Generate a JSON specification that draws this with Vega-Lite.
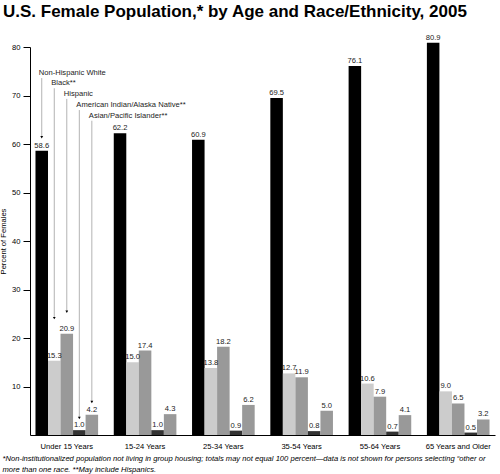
{
  "$schema": "https://vega.github.io/schema/vega-lite/v6.json",
  "width": 465,
  "height": 388,
  "autosize": {"type": "none"},
  "padding": {"left": 30, "top": 47, "right": 5, "bottom": 39},
  "background": "white",
  "config": {
    "view": {"stroke": null},
    "font": "Liberation Sans",
    "axis": {"grid": false}
  },
  "title": {
    "text": "U.S. Female Population,* by Age and Race/Ethnicity, 2005",
    "font": "Liberation Sans",
    "fontSize": 17,
    "fontWeight": "bold",
    "color": "black",
    "anchor": "start",
    "frame": "group",
    "dx": -27,
    "offset": 13
  },
  "datasets": {
    "bars": [
      {"age": "Under 15 Years", "race": "Non-Hispanic White", "pct": 58.6},
      {"age": "Under 15 Years", "race": "Black**", "pct": 15.3},
      {"age": "Under 15 Years", "race": "Hispanic", "pct": 20.9},
      {"age": "Under 15 Years", "race": "American Indian/Alaska Native**", "pct": 1.0},
      {"age": "Under 15 Years", "race": "Asian/Pacific Islander**", "pct": 4.2},
      {"age": "15-24 Years", "race": "Non-Hispanic White", "pct": 62.2},
      {"age": "15-24 Years", "race": "Black**", "pct": 15.0},
      {"age": "15-24 Years", "race": "Hispanic", "pct": 17.4},
      {"age": "15-24 Years", "race": "American Indian/Alaska Native**", "pct": 1.0},
      {"age": "15-24 Years", "race": "Asian/Pacific Islander**", "pct": 4.3},
      {"age": "25-34 Years", "race": "Non-Hispanic White", "pct": 60.9},
      {"age": "25-34 Years", "race": "Black**", "pct": 13.8},
      {"age": "25-34 Years", "race": "Hispanic", "pct": 18.2},
      {"age": "25-34 Years", "race": "American Indian/Alaska Native**", "pct": 0.9},
      {"age": "25-34 Years", "race": "Asian/Pacific Islander**", "pct": 6.2},
      {"age": "35-54 Years", "race": "Non-Hispanic White", "pct": 69.5},
      {"age": "35-54 Years", "race": "Black**", "pct": 12.7},
      {"age": "35-54 Years", "race": "Hispanic", "pct": 11.9},
      {"age": "35-54 Years", "race": "American Indian/Alaska Native**", "pct": 0.8},
      {"age": "35-54 Years", "race": "Asian/Pacific Islander**", "pct": 5.0},
      {"age": "55-64 Years", "race": "Non-Hispanic White", "pct": 76.1},
      {"age": "55-64 Years", "race": "Black**", "pct": 10.6},
      {"age": "55-64 Years", "race": "Hispanic", "pct": 7.9},
      {"age": "55-64 Years", "race": "American Indian/Alaska Native**", "pct": 0.7},
      {"age": "55-64 Years", "race": "Asian/Pacific Islander**", "pct": 4.1},
      {"age": "65 Years and Older", "race": "Non-Hispanic White", "pct": 80.9},
      {"age": "65 Years and Older", "race": "Black**", "pct": 9.0},
      {"age": "65 Years and Older", "race": "Hispanic", "pct": 6.5},
      {"age": "65 Years and Older", "race": "American Indian/Alaska Native**", "pct": 0.5},
      {"age": "65 Years and Older", "race": "Asian/Pacific Islander**", "pct": 3.2}
    ],
    "notes": [
      {"age": "Under 15 Years", "race": "Non-Hispanic White", "labelAt": 74.6, "lineFrom": 73.6, "arrowAt": 61.4},
      {"age": "Under 15 Years", "race": "Black**", "labelAt": 72.5, "lineFrom": 71.5, "arrowAt": 24.1},
      {"age": "Under 15 Years", "race": "Hispanic", "labelAt": 70.3, "lineFrom": 69.3, "arrowAt": 25.4},
      {"age": "Under 15 Years", "race": "American Indian/Alaska Native**", "labelAt": 68.0, "lineFrom": 67.0, "arrowAt": 3.5},
      {"age": "Under 15 Years", "race": "Asian/Pacific Islander**", "labelAt": 65.8, "lineFrom": 64.8, "arrowAt": 6.8}
    ]
  },
  "encoding": {
    "x": {
      "field": "age",
      "type": "nominal",
      "sort": ["Under 15 Years", "15-24 Years", "25-34 Years", "35-54 Years", "55-64 Years", "65 Years and Older"],
      "scale": {"paddingInner": 0.2, "paddingOuter": 0.07},
      "axis": {
        "labelAngle": 0,
        "labelFontSize": 7.6,
        "labelColor": "black",
        "labelPadding": 7,
        "ticks": false,
        "domainColor": "black",
        "domainWidth": 1,
        "title": [
          "*Non-institutionalized population not living in group housing; totals may not equal 100 percent\u2014data is not shown for persons selecting \u201cother or",
          "more than one race. **May include Hispanics."
        ],
        "titleFontStyle": "italic",
        "titleFontWeight": "normal",
        "titleFontSize": 7.6,
        "titleColor": "black",
        "titleAnchor": "start",
        "titleAlign": "left",
        "titleBaseline": "alphabetic",
        "titleX": -28,
        "titleY": 25,
        "titleLineHeight": 11
      }
    },
    "xOffset": {
      "field": "race",
      "type": "nominal",
      "sort": ["Non-Hispanic White", "Black**", "Hispanic", "American Indian/Alaska Native**", "Asian/Pacific Islander**"],
      "scale": {"paddingInner": 0, "paddingOuter": 0}
    }
  },
  "layer": [
    {
      "data": {"name": "bars"},
      "mark": {"type": "bar", "clip": false},
      "encoding": {
        "y": {
          "field": "pct",
          "type": "quantitative",
          "scale": {"domain": [0, 80], "nice": false, "clamp": false},
          "axis": {
            "values": [10, 20, 30, 40, 50, 60, 70, 80],
            "labelFontSize": 7.6,
            "labelColor": "black",
            "tickSize": 7,
            "tickColor": "black",
            "domainColor": "black",
            "labelPadding": 3,
            "title": "Percent of Females",
            "titleFontSize": 7.6,
            "titleFontWeight": "normal",
            "titleColor": "black",
            "titlePadding": 4
          }
        },
        "color": {
          "field": "race",
          "type": "nominal",
          "scale": {
            "domain": ["Non-Hispanic White", "Black**", "Hispanic", "American Indian/Alaska Native**", "Asian/Pacific Islander**"],
            "range": ["#000000", "#cccccc", "#999999", "#333333", "#999999"]
          },
          "legend": null
        }
      }
    },
    {
      "data": {"name": "bars"},
      "mark": {"type": "text", "fontSize": 7.6, "fill": "#222222", "baseline": "alphabetic", "dy": -3},
      "encoding": {
        "y": {"field": "pct", "type": "quantitative"},
        "text": {"field": "pct", "type": "quantitative", "format": ".1f"}
      }
    },
    {
      "data": {"name": "notes"},
      "mark": {"type": "rule", "color": "#b3b3b3", "strokeWidth": 1},
      "encoding": {
        "y": {"field": "lineFrom", "type": "quantitative"},
        "y2": {"field": "arrowAt"}
      }
    },
    {
      "data": {"name": "notes"},
      "mark": {"type": "point", "shape": "triangle-down", "filled": true, "color": "black", "size": 8, "opacity": 1},
      "encoding": {
        "y": {"field": "arrowAt", "type": "quantitative"}
      }
    },
    {
      "data": {"name": "notes"},
      "mark": {"type": "text", "fontSize": 7.6, "fill": "#222222", "align": "left", "baseline": "middle", "dx": -3},
      "encoding": {
        "y": {"field": "labelAt", "type": "quantitative"},
        "text": {"field": "race", "type": "nominal"}
      }
    }
  ]
}
